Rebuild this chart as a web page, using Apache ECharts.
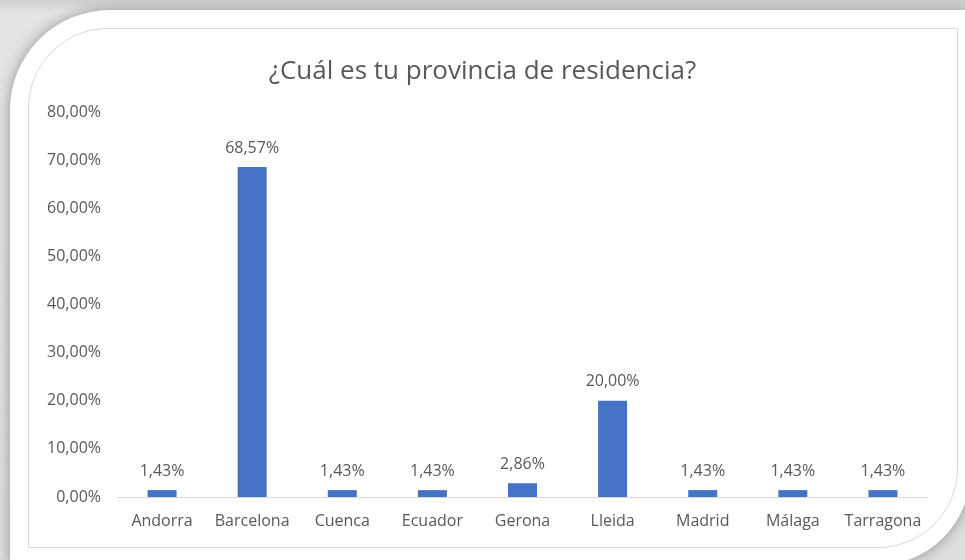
<!DOCTYPE html>
<html>
<head>
<meta charset="utf-8">
<script src="https://cdn.jsdelivr.net/npm/echarts@6/dist/echarts.min.js"></script>
<style>
  html, body { margin: 0; padding: 0; }
  body {
    width: 965px; height: 560px; overflow: hidden; position: relative;
    background: linear-gradient(to bottom, #cfcfcf 0px, #e4e4e4 12px, #dedede 100%);
  }
  #card {
    position: absolute; left: 10px; top: 10px; width: 960px; height: 555px;
    background: #ffffff;
    border-top-left-radius: 100px;
    border-bottom-right-radius: 92px;
    box-shadow: 0 0 14px rgba(0,0,0,0.35);
  }
  #frame {
    position: absolute; left: 28px; top: 28px; width: 928px; height: 518px;
    border: 1px solid #d9d9d9;
    border-top-left-radius: 80px;
    border-bottom-right-radius: 80px;
    overflow: hidden;
    background: #ffffff;
  }
  #chart {
    position: absolute; left: -29px; top: -29px; width: 965px; height: 560px;
  }
</style>
</head>
<body>
<div id="card"></div>
<div id="frame"><div id="chart"></div></div>
<script>
// Provinces of residence and their share of respondents (%)
const categories = ['Andorra', 'Barcelona', 'Cuenca', 'Ecuador', 'Gerona', 'Lleida', 'Madrid', 'Málaga', 'Tarragona'];
const shares = [1.43, 68.57, 1.43, 1.43, 2.86, 20.00, 1.43, 1.43, 1.43];
const titleText = '¿Cuál es tu provincia de residencia?';
const yMin = 0, yMax = 80, yStep = 10;

const FONT = '"Open Sans", Lato, sans-serif';
const pct = v => Number(v).toFixed(2).replace('.', ',') + '%';

const chart = echarts.init(document.getElementById('chart'), null, { renderer: 'canvas' });
chart.setOption({
  animation: false,
  backgroundColor: 'transparent',
  title: {
    text: titleText,
    left: 'center',
    top: 54,
    textStyle: { fontFamily: FONT, fontSize: 26, fontWeight: 'normal', color: '#595959' }
  },
  grid: { left: 117, right: 37, top: 112, bottom: 63, containLabel: false },
  xAxis: {
    type: 'category',
    data: categories,
    axisLine: { lineStyle: { color: '#d9d9d9', width: 1 } },
    axisTick: { show: false },
    axisLabel: { interval: 0, hideOverlap: false, color: '#595959', fontFamily: FONT, fontSize: 16, margin: 16 }
  },
  yAxis: {
    type: 'value',
    min: yMin, max: yMax, interval: yStep,
    axisLine: { show: false },
    axisTick: { show: false },
    splitLine: { show: false },
    axisLabel: { color: '#595959', fontFamily: FONT, fontSize: 16, margin: 16, formatter: pct }
  },
  series: [{
    type: 'bar',
    data: shares,
    barWidth: 29,
    itemStyle: { color: '#4472c4' },
    label: {
      show: true,
      position: 'top',
      distance: 11,
      color: '#595959',
      fontFamily: FONT,
      fontSize: 16,
      formatter: p => pct(p.value)
    }
  }]
});
</script>
</body>
</html>
